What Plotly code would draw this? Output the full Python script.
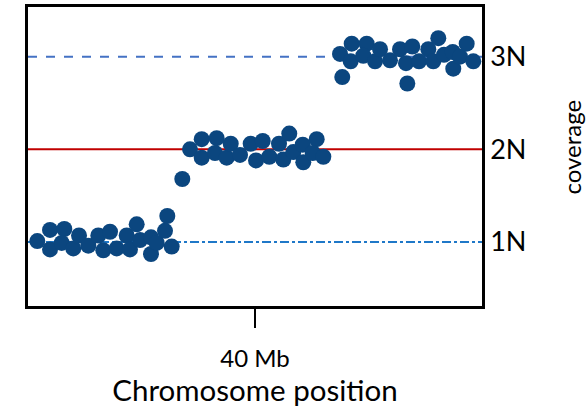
import plotly.graph_objects as go

# Data (Mb, coverage in copy-number units)
x_low = [1.64, 3.88, 3.88, 6.40, 5.94, 7.98, 8.99, 10.63, 12.39, 13.27, 14.45, 15.63,
         17.39, 17.97, 19.15, 19.74, 21.67, 21.67, 22.68, 24.14, 24.55, 25.32, 27.19]
y_low = [1.01, 1.13, 0.92, 1.14, 0.99, 0.93, 1.07, 0.96, 1.07, 0.91, 1.11, 0.93,
         1.07, 0.92, 1.19, 1.02, 1.05, 0.87, 0.99, 1.12, 1.28, 0.95, 1.68]
x_mid = [28.55, 30.61, 30.61, 33.25, 32.95, 35.01, 35.72, 37.36, 39.24, 40.18, 41.36,
         42.52, 44.23, 44.99, 46.04, 46.75, 48.41, 48.51, 50.87, 50.17, 52.04]
y_mid = [2.00, 2.11, 1.91, 2.12, 1.96, 1.91, 2.06, 1.94, 2.06, 1.88, 2.09,
         1.92, 2.06, 1.89, 2.17, 1.97, 2.05, 1.86, 2.11, 1.96, 1.92]
x_high = [54.98, 55.38, 57.04, 56.86, 59.68, 59.08, 61.15, 62.03, 63.79, 65.55, 66.61,
          67.72, 66.84, 68.90, 70.54, 71.42, 72.30, 73.30, 74.84, 74.94, 76.12, 77.30, 78.47]
y_high = [3.03, 2.78, 3.14, 2.95, 3.14, 3.01, 2.95, 3.08, 2.96, 3.08, 2.93,
          3.11, 2.71, 2.95, 3.08, 2.95, 3.20, 3.02, 3.05, 2.87, 3.00, 3.14, 2.95]

levels = [1, 2, 3]
level_labels = ["1N", "2N", "3N"]
x_tick = [40]
x_tick_labels = ["40 Mb"]
x_range = [0, 80]
y_range = [0.309, 3.536]

FONT = "Lato"

fig = go.Figure()

# reference lines
line_styles = [
    dict(color="#1F78C8", width=2, dash="dashdot"),
    dict(color="#C00000", width=2, dash="solid"),
    dict(color="#4472C4", width=2, dash="dash"),
]
for lv, st in zip(levels, line_styles):
    fig.add_trace(go.Scatter(x=x_range, y=[lv, lv], mode="lines", line=st,
                             hoverinfo="skip", showlegend=False))

xs = x_low + x_mid + x_high
ys = y_low + y_mid + y_high
fig.add_trace(go.Scatter(x=xs, y=ys, mode="markers",
                         marker=dict(size=16, color="#0B467F", line=dict(width=0)),
                         showlegend=False))

fig.add_annotation(text="coverage", textangle=-90, xref="paper", yref="paper",
                   x=1, y=0.5, xanchor="center", yanchor="middle",
                   xshift=89, yshift=9, showarrow=False, borderpad=0,
                   font=dict(size=24, family=FONT, color="black"))

fig.update_layout(
    width=587, height=410,
    margin=dict(l=28, r=105, t=7, b=104, autoexpand=False),
    paper_bgcolor="white", plot_bgcolor="white",
    font=dict(family=FONT, color="black"),
    xaxis=dict(range=x_range, showgrid=False, zeroline=False,
               showline=True, linecolor="black", linewidth=2.5, mirror=True,
               tickmode="array", tickvals=x_tick, ticktext=x_tick_labels,
               ticks="outside", ticklen=19, tickwidth=2, tickcolor="black",
               ticklabelstandoff=10,
               tickfont=dict(size=24, family=FONT),
               title=dict(text="Chromosome position", font=dict(size=29.5, family=FONT),
                          standoff=4)),
    yaxis=dict(range=y_range, showgrid=False, zeroline=False, side="right",
               showline=True, linecolor="black", linewidth=2.5, mirror=True,
               tickmode="array", tickvals=levels, ticktext=level_labels,
               ticks="", tickfont=dict(size=27, family=FONT)),
)

fig.write_html("out.html", config={"displayModeBar": False},
               post_script="document.body.style.margin='0';")
